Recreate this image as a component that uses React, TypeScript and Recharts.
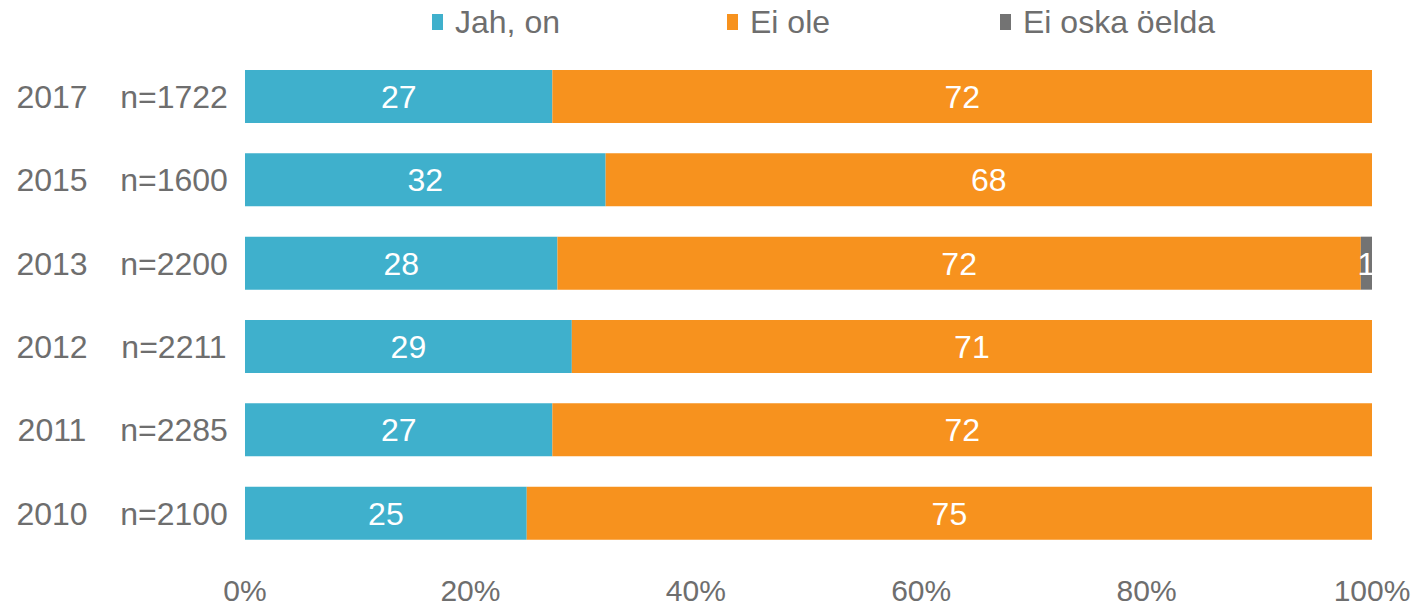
import { BarChart, Bar, XAxis, YAxis, LabelList } from 'recharts';

const years = ['2017', '2015', '2013', '2012', '2011', '2010'];
const sampleSizes = ['n=1722', 'n=1600', 'n=2200', 'n=2211', 'n=2285', 'n=2100'];
const jahOn = [27, 32, 28, 29, 27, 25];
const eiOle = [72, 68, 72, 71, 72, 75];
const eiOska = [0, 0, 1, 0, 0, 0];
const xTicks = [0, 0.2, 0.4, 0.6, 0.8, 1];

const seriesNames = ['Jah, on', 'Ei ole', 'Ei oska öelda'];
const colors = ['#3fb0cc', '#f7921e', '#737373'];
const legendLeft = [432, 727, 1000];

const data = years.map((year, i) => ({
  year,
  n: sampleSizes[i],
  jah: jahOn[i],
  ole: eiOle[i],
  oska: eiOska[i],
}));

const FONT = 'Liberation Sans, Arial, sans-serif';
const TEXT_GREY = '#6e6e6e';

// vasakul kaks veergu: aasta ja valimi suurus
const YearTick = (props: any) => {
  const { y, payload, index } = props;
  return (
    <g>
      <text x={52} y={y} dy="0.355em" textAnchor="middle" fill={TEXT_GREY} fontSize={32} fontFamily={FONT}>
        {payload.value}
      </text>
      <text x={174} y={y} dy="0.355em" textAnchor="middle" fill={TEXT_GREY} fontSize={32} fontFamily={FONT}>
        {sampleSizes[index]}
      </text>
    </g>
  );
};

const hideZero = (v: any) => (v ? v : '');

export default function App() {
  return (
    <div style={{ position: 'absolute', left: 0, top: 0, width: 1420, height: 610, background: '#fff' }}>
      {/* legend eraldi, et see ei nihutaks joonist */}
      {seriesNames.map((name, i) => (
        <div
          key={name}
          style={{
            position: 'absolute',
            left: legendLeft[i],
            top: 2,
            display: 'flex',
            alignItems: 'center',
            fontFamily: FONT,
            fontSize: 32,
            color: TEXT_GREY,
            lineHeight: '40px',
            whiteSpace: 'nowrap',
          }}
        >
          <span style={{ display: 'inline-block', width: 11, height: 16, background: colors[i], marginRight: 12 }} />
          <span>{name}</span>
        </div>
      ))}
      <BarChart
        width={1420}
        height={610}
        data={data}
        layout="vertical"
        stackOffset="expand"
        barSize={53}
        margin={{ top: 55, right: 48, left: 0, bottom: 0 }}
      >
        <XAxis
          type="number"
          domain={[0, 1]}
          ticks={xTicks}
          tickFormatter={(v) => `${Math.round(v * 100)}%`}
          axisLine={false}
          tickLine={false}
          tickSize={0}
          tickMargin={25}
          height={55}
          tick={{ fontSize: 30, fill: TEXT_GREY, fontFamily: FONT }}
        />
        <YAxis
          type="category"
          dataKey="year"
          width={245}
          axisLine={false}
          tickLine={false}
          tick={<YearTick />}
        />
        <Bar dataKey="jah" name={seriesNames[0]} stackId="a" fill={colors[0]} isAnimationActive={false}>
          <LabelList dataKey="jah" position="center" fill="#fff" fontSize={32} fontFamily={FONT} formatter={hideZero} />
        </Bar>
        <Bar dataKey="ole" name={seriesNames[1]} stackId="a" fill={colors[1]} isAnimationActive={false}>
          <LabelList dataKey="ole" position="center" fill="#fff" fontSize={32} fontFamily={FONT} formatter={hideZero} />
        </Bar>
        <Bar dataKey="oska" name={seriesNames[2]} stackId="a" fill={colors[2]} isAnimationActive={false}>
          <LabelList dataKey="oska" position="center" fill="#fff" fontSize={32} fontFamily={FONT} formatter={hideZero} />
        </Bar>
      </BarChart>
    </div>
  );
}
